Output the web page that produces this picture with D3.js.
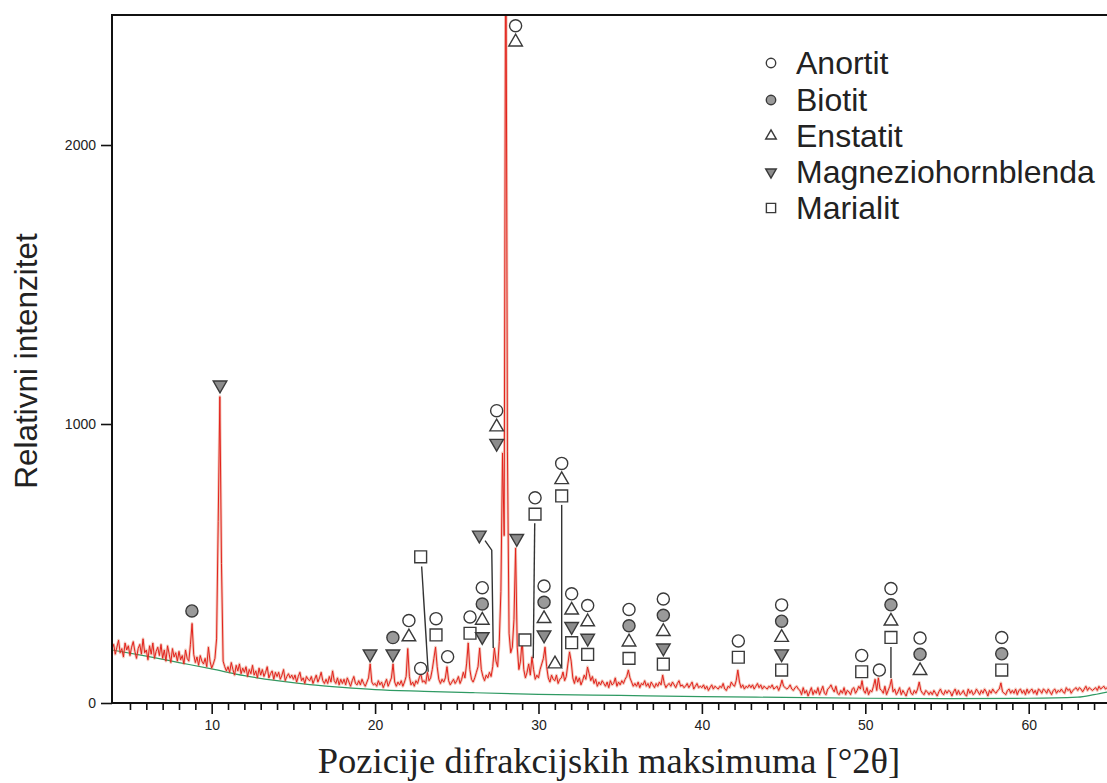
<!DOCTYPE html>
<html>
<head>
<meta charset="utf-8">
<script src="https://cdn.jsdelivr.net/npm/d3@7"></script>
<style>
  html, body { margin: 0; padding: 0; background: #fff; }
  svg { display: block; }
</style>
</head>
<body>
<svg id="chart" width="1107" height="783"></svg>
<script>
// ---------------- DATA ----------------
const twoThetaStart = 3.9;
const twoThetaStep = 0.1;
const intensity = [
  195,
  210,175,200,225,180,195,165,215,190,205,
  170,200,220,185,160,195,210,175,230,180,
  190,155,205,175,215,160,185,200,170,210,
  160,190,150,205,175,145,195,165,180,150,
  185,155,170,140,190,160,150,210,285,175,
  145,165,135,170,150,140,160,130,200,150,
  125,140,160,230,650,1098,500,150,130,115,
  130,110,145,120,100,135,115,140,105,125,
  110,130,95,120,105,135,100,115,90,125,
  100,120,95,110,130,90,105,115,85,110,
  95,110,85,100,120,80,95,105,90,100,
  85,100,75,95,110,80,90,70,95,85,
  80,95,70,85,100,75,90,110,80,70,
  85,70,95,75,115,80,70,90,65,85,
  70,85,65,90,75,60,80,95,70,65,
  80,65,85,70,60,75,90,140,75,65,
  70,60,80,65,75,55,70,85,60,75,
  90,140,75,60,75,65,80,60,75,95,
  195,95,65,75,60,80,70,90,105,75,
  80,70,110,80,90,120,160,200,130,85,
  70,85,75,90,130,80,65,75,85,70,
  80,95,70,85,110,90,140,215,120,85,
  75,90,110,130,197,120,95,80,100,90,
  110,95,130,197,150,130,220,400,896,600,
  3000,900,250,180,200,300,555,200,120,150,
  226,120,90,110,140,100,165,120,85,100,
  90,120,140,160,200,130,90,75,100,85,
  80,100,70,85,90,111,80,95,140,183,
  150,90,70,95,75,90,65,80,100,85,
  129,105,80,95,70,85,60,75,65,80,
  70,60,75,55,80,65,70,90,60,75,
  65,80,70,85,95,118,90,75,60,70,
  60,75,55,70,65,80,60,70,55,75,
  65,55,70,60,75,65,100,70,55,65,
  70,60,75,65,55,70,80,60,65,55,
  60,70,55,65,75,50,60,70,55,60,
  55,65,50,60,45,55,65,50,60,55,
  50,60,55,70,50,45,60,55,75,65,
  60,80,118,75,55,65,50,60,55,65,
  55,65,50,60,70,55,65,50,60,55,
  50,60,55,65,50,55,60,45,60,82,
  60,55,50,55,65,50,45,55,60,50,
  45,30,55,35,45,25,40,55,30,45,
  35,55,30,45,60,35,30,50,55,65,
  50,40,60,35,30,45,35,55,30,45,
  40,30,50,55,35,45,60,50,80,45,
  35,55,30,45,40,60,85,45,90,50,
  45,35,60,30,45,60,85,40,50,30,
  40,55,30,45,35,25,45,55,35,30,
  45,35,50,75,45,35,30,45,40,30,
  40,30,45,35,25,40,50,35,30,45,
  35,45,40,25,40,50,30,45,30,35,
  45,30,25,50,35,45,30,35,50,40,
  30,45,35,50,40,25,45,35,50,40,
  35,45,50,72,40,35,30,45,50,35,
  45,35,50,30,45,50,35,45,30,50,
  35,45,50,35,45,30,50,45,35,50,
  45,35,50,40,30,45,50,35,45,40,
  50,40,35,55,45,50,35,45,50,55,
  45,55,50,40,50,60,45,55,50,45,
  50,55,45,60,50,55,60,50,55,60,
  55
];

// fitted background (green line)
const bgAngles = [3.9, 6, 8, 10, 12, 14, 16, 18, 20, 23, 26, 30, 35, 40, 45, 50, 55, 60, 63, 64, 65];
const bgValues = [190, 168, 145, 122, 98, 80, 66, 56, 48, 42, 37, 31, 27, 23, 20, 17, 16, 17, 21, 30, 42];

// phases
const phaseKeys = ["A", "B", "E", "M", "S"];
const phaseNames = ["Anortit", "Biotit", "Enstatit", "Magneziohornblenda", "Marialit"];

// marker groups: angle, value of lowest marker, phases top -> bottom
const groupAngles = [8.79, 10.51, 19.69, 21.09, 22.07, 22.79, 22.79, 23.73, 24.44, 25.81, 26.56, 26.38,
  27.44, 28.67, 29.17, 29.79, 30.34, 31.01, 31.42, 32.03, 33.01, 35.54, 37.64, 42.23, 44.88,
  49.78, 50.86, 51.57, 53.35, 58.35, 28.6];
const groupValues = [330, 1140, 176, 176, 237, 124, 524, 244, 166, 250, 238, 602,
  931, 590, 226, 677, 244, 140, 742, 216, 174, 160, 139, 164, 118,
  112, 118, 235, 116, 118, 2369];
const groupPhases = ["B", "M", "M", "BM", "AE", "A", "S", "AS", "A", "AS", "ABEM", "M",
  "AEM", "M", "S", "AS", "ABEM", "E", "AES", "AEMS", "AEMS", "ABES", "ABEMS", "AS", "ABEMS",
  "AS", "A", "ABES", "ABE", "ABS", "AE"];

// leader lines (angle, intensity) polylines
const leaderLines = [
  [[22.85, 489], [23.25, 112]],
  [[26.73, 582], [27.14, 548], [27.23, 197]],
  [[29.77, 644], [29.68, 160]],
  [[31.42, 710], [31.42, 129]],
  [[51.57, 201], [51.57, 90]]
];

const xMajorTicks = [10, 20, 30, 40, 50, 60];
const xMinorTicks = [5,6,7,8,9,11,12,13,14,15,16,17,18,19,21,22,23,24,25,26,27,28,29,31,32,33,34,35,36,37,38,39,
  41,42,43,44,45,46,47,48,49,51,52,53,54,55,56,57,58,59,61,62,63,64];
const yTicks = [0, 1000, 2000];

const xTitle = "Pozicije difrakcijskih maksimuma [°2θ]";
const yTitle = "Relativni intenzitet";

// ---------------- CHART ----------------
const svg = d3.select("#chart");
const plotLeft = 112, plotTop = 15, plotBottom = 703, plotRight = 1110.4;
const x = d3.scaleLinear().domain([3.9, 65]).range([plotLeft, plotRight]);
const y = d3.scaleLinear().domain([0, 2466]).range([plotBottom, plotTop]);

const sansFont = "Arial, 'Liberation Sans', Helvetica, sans-serif";
const serifFont = "'Times New Roman', 'Liberation Serif', Times, serif";

svg.append("defs").append("clipPath").attr("id", "plotclip")
  .append("rect").attr("x", plotLeft).attr("y", plotTop)
  .attr("width", plotRight - plotLeft).attr("height", plotBottom - plotTop);

const pattern = intensity.map((v, i) => [twoThetaStart + i * twoThetaStep, v]);
const patternLine = d3.line().x(d => x(d[0])).y(d => y(d[1]));

// background line
svg.append("path")
  .datum(bgAngles.map((a, i) => [a, bgValues[i]]))
  .attr("clip-path", "url(#plotclip)")
  .attr("fill", "none")
  .attr("stroke", "#2f9a63")
  .attr("stroke-width", 1.2)
  .attr("d", d3.line().x(d => x(d[0])).y(d => y(d[1])).curve(d3.curveMonotoneX));

// measured pattern: soft halo + line
svg.append("path")
  .datum(pattern)
  .attr("clip-path", "url(#plotclip)")
  .attr("fill", "none")
  .attr("stroke", "#d9603f")
  .attr("stroke-opacity", 0.35)
  .attr("stroke-width", 2.8)
  .attr("stroke-linejoin", "round")
  .attr("d", patternLine);
svg.append("path")
  .datum(pattern)
  .attr("clip-path", "url(#plotclip)")
  .attr("fill", "none")
  .attr("stroke", "#e3221c")
  .attr("stroke-width", 1)
  .attr("stroke-linejoin", "round")
  .attr("d", patternLine);

// frame
svg.append("path")
  .attr("d", `M${plotRight},${plotTop}H${plotLeft}V${plotBottom}H${plotRight}`)
  .attr("fill", "none").attr("stroke", "#111").attr("stroke-width", 2);

// x axis
const xAxisMajor = d3.axisBottom(x).tickValues(xMajorTicks).tickSize(11).tickPadding(6).tickFormat(d3.format("d"));
const gx = svg.append("g").attr("transform", `translate(0,${plotBottom})`).call(xAxisMajor);
gx.select(".domain").remove();
gx.selectAll(".tick line").attr("stroke", "#111").attr("stroke-width", 1.6);
gx.selectAll(".tick text").attr("font-family", sansFont).attr("font-size", 14).attr("fill", "#222");
const xAxisMinor = d3.axisBottom(x).tickValues(xMinorTicks).tickSize(7).tickFormat("");
const gxm = svg.append("g").attr("transform", `translate(0,${plotBottom})`).call(xAxisMinor);
gxm.select(".domain").remove();
gxm.selectAll(".tick line").attr("stroke", "#111").attr("stroke-width", 1.6);

// y axis
const gy = svg.append("g").attr("transform", `translate(${plotLeft},0)`)
  .call(d3.axisLeft(y).tickValues(yTicks).tickSize(11).tickPadding(5).tickFormat(d3.format("d")));
gy.select(".domain").remove();
gy.selectAll(".tick line").attr("stroke", "#111").attr("stroke-width", 1.6);
gy.selectAll(".tick text").attr("font-family", sansFont).attr("font-size", 14).attr("fill", "#222");

// titles
svg.append("text")
  .attr("transform", "translate(37,361) rotate(-90)")
  .attr("text-anchor", "middle")
  .attr("font-family", sansFont).attr("font-size", 31.5).attr("fill", "#222")
  .text(yTitle);
svg.append("text")
  .attr("x", 609).attr("y", 773)
  .attr("text-anchor", "middle")
  .attr("font-family", serifFont).attr("font-size", 36.5).attr("fill", "#222")
  .text(xTitle);

// symbols
const phaseStyle = {
  A: { type: d3.symbolCircle, size: 115, fill: "#fff", rot: 0 },
  B: { type: d3.symbolCircle, size: 115, fill: "#9a9a9a", rot: 0 },
  E: { type: d3.symbolTriangle, size: 80, fill: "#fff", rot: 0 },
  M: { type: d3.symbolTriangle, size: 80, fill: "#8c8c8c", rot: 180 },
  S: { type: d3.symbolSquare, size: 140, fill: "#fff", rot: 0 }
};
function drawSymbol(g, key, cx, cy, scale) {
  const st = phaseStyle[key];
  g.append("path")
    .attr("d", d3.symbol().type(st.type).size(st.size * scale * scale)())
    .attr("transform", `translate(${cx},${cy}) rotate(${st.rot})`)
    .attr("fill", st.fill)
    .attr("stroke", "#3a3a3a")
    .attr("stroke-width", 1.4);
}

// leader lines
const leaderGen = d3.line().x(d => x(d[0])).y(d => y(d[1]));
svg.append("g").selectAll("path").data(leaderLines).join("path")
  .attr("d", leaderGen)
  .attr("fill", "none").attr("stroke", "#333").attr("stroke-width", 1.4);

// marker groups
const stackStep = 16.3;
const gm = svg.append("g");
groupAngles.forEach((a, i) => {
  const phases = groupPhases[i].split("");
  const n = phases.length;
  phases.forEach((p, k) => {
    const cy = y(groupValues[i]) - (n - 1 - k) * stackStep;
    drawSymbol(gm, p, x(a), cy, 1);
  });
});

// legend
const legendRowY = [63, 100, 136, 172, 208];
const gl = svg.append("g");
phaseKeys.forEach((k, i) => {
  drawSymbol(gl, k, 771, legendRowY[i], 0.78);
  gl.append("text")
    .attr("x", 796).attr("y", legendRowY[i] + 11)
    .attr("font-family", sansFont).attr("font-size", 32).attr("fill", "#222")
    .text(phaseNames[i]);
});
</script>
</body>
</html>
